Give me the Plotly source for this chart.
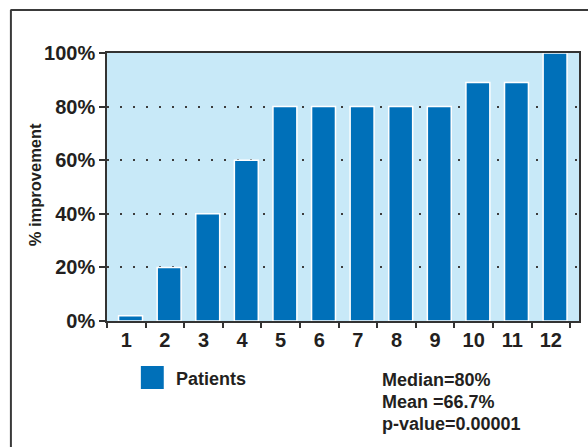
import plotly.graph_objects as go

# Improvement per patient (%)
patients = ["1", "2", "3", "4", "5", "6", "7", "8", "9", "10", "11", "12"]
improvement = [2, 20, 40, 60, 80, 80, 80, 80, 80, 89, 89, 100]
y_ticks = [0, 20, 40, 60, 80, 100]
y_tick_labels = ["0%", "20%", "40%", "60%", "80%", "100%"]
stats_lines = ["Median=80%", "Mean =66.7%", "p-value=0.00001"]

FIG_W, FIG_H = 588, 447
L, R, T, B = 107, 581, 53, 321
PW, PH = R - L, B - T


def px2x(px):
    return (px - L) / PW


def py2y(py):
    return (B - py) / PH


TEXT = "#231f20"
AXIS = "#333333"
BAR = "#0070b9"
BG = "#c8e9f8"
FONT = "Liberation Sans"

fig = go.Figure()
fig.add_trace(go.Bar(
    x=patients,
    y=improvement,
    width=0.62,
    offset=-0.2,
    marker=dict(color=BAR, line=dict(color="white", width=1.5)),
    name="Patients",
    showlegend=False,
    hoverinfo="x+y",
))

fig.update_layout(
    width=FIG_W,
    height=FIG_H,
    margin=dict(l=L, r=FIG_W - R, t=T, b=FIG_H - B, pad=0),
    paper_bgcolor="white",
    plot_bgcolor=BG,
    font=dict(family=FONT, color=TEXT),
    bargap=0.38,
)

fig.update_xaxes(
    type="category",
    range=[-0.5, 11.73],
    tickson="boundaries",
    ticks="outside",
    ticklen=5,
    tickwidth=1.5,
    tickcolor=AXIS,
    showline=True,
    mirror=True,
    linecolor=AXIS,
    linewidth=1.5,
    showgrid=False,
    tickfont=dict(family=FONT, size=20, weight="bold", color=TEXT),
)

fig.update_yaxes(
    range=[0, 100],
    tickvals=y_ticks,
    ticktext=y_tick_labels,
    ticks="outside",
    ticklen=6,
    tickwidth=1.5,
    tickcolor=AXIS,
    showline=True,
    mirror=True,
    linecolor=AXIS,
    linewidth=1.5,
    showgrid=True,
    gridcolor="#3c3c3c",
    gridwidth=1.6,
    griddash="2px,11px",
    zeroline=False,
    tickfont=dict(family=FONT, size=20, weight="bold", color=TEXT),
)

# Axis title
fig.add_annotation(
    text="% improvement",
    textangle=-90,
    xref="paper", yref="paper",
    x=px2x(35), y=py2y(185),
    xanchor="center", yanchor="middle",
    showarrow=False,
    font=dict(family=FONT, size=16.5, weight="bold", color=TEXT),
)

# Legend swatch and label
fig.add_shape(
    type="rect", xref="paper", yref="paper",
    x0=px2x(141), x1=px2x(164), y0=py2y(389), y1=py2y(366),
    fillcolor=BAR, line=dict(width=0),
)
fig.add_annotation(
    text="Patients",
    xref="paper", yref="paper",
    x=px2x(174), y=py2y(379),
    xanchor="left", yanchor="middle",
    showarrow=False,
    font=dict(family=FONT, size=18, weight="bold", color=TEXT),
)

# Summary statistics
for i, line in enumerate(stats_lines):
    fig.add_annotation(
        text=line,
        xref="paper", yref="paper",
        x=px2x(381), y=py2y(380 + 22 * i),
        xanchor="left", yanchor="middle",
        showarrow=False,
        font=dict(family=FONT, size=18, weight="bold", color=TEXT),
    )

# Outer frame (top and left edges)
fig.add_shape(
    type="line", xref="paper", yref="paper",
    x0=px2x(10), x1=px2x(600), y0=py2y(10), y1=py2y(10),
    line=dict(color="#3a3a3a", width=2),
)
fig.add_shape(
    type="line", xref="paper", yref="paper",
    x0=px2x(10.5), x1=px2x(10.5), y0=py2y(10), y1=py2y(460),
    line=dict(color="#3a3a3a", width=2),
)

fig.write_html("out.html")
